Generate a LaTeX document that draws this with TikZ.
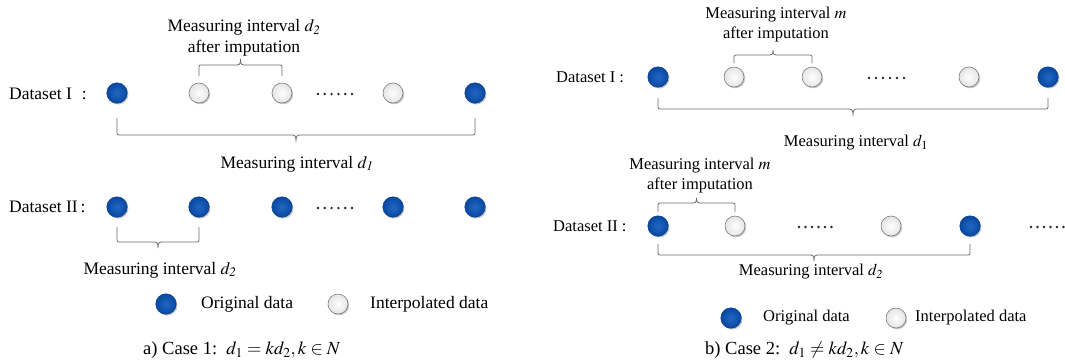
\documentclass[tikz,border=0pt]{standalone}
\usepackage{mathptmx}
\usepackage{fontspec}
\setmainfont{Liberation Serif}
\usetikzlibrary{shadows}
\definecolor{blueIn}{HTML}{2366C2}
\definecolor{blueOut}{HTML}{0748A0}
\definecolor{blueEdge}{HTML}{063E8C}
\definecolor{greyOut}{HTML}{E4E4E4}
\definecolor{greyEdge}{HTML}{7A7A7A}
\definecolor{braceCol}{HTML}{6A6A6A}
\tikzset{
  dshadow/.style={drop shadow={shadow xshift=1.2pt, shadow yshift=-1.3pt, fill=black, opacity=0.22}},
  orig/.style={circle, minimum size=20.5pt, inner sep=0pt, draw=blueEdge, line width=0.5pt,
    inner color=blueIn, outer color=blueOut, dshadow},
  interp/.style={circle, minimum size=20pt, inner sep=0pt, draw=greyEdge, line width=0.6pt,
    inner color=white, outer color=greyOut, dshadow},
  bracepath/.style={draw=braceCol, line width=0.8pt, line join=round},
  lefttext/.style={inner sep=0pt, font=\fontsize{17.5}{21}\selectfont},
  righttext/.style={inner sep=0pt, font=\fontsize{16.5}{20}\selectfont},
  captext/.style={inner sep=0pt, anchor=west, font=\fontsize{18.5}{22}\selectfont},
}
% x1, x2, y of ends, y of line, y of tip
\newcommand{\mybrace}[5]{%
  \pgfmathsetmacro\bxm{(#1+#2)/2}%
  \pgfmathsetmacro\bs{sign(#3-#4)}%
  \pgfmathsetmacro\byc{#4+4*\bs}%
  \draw[bracepath] (#1,#3) -- (#1,\byc) .. controls (#1,#4) .. ({#1+4},#4)
    -- ({\bxm-6},#4) .. controls ({\bxm-1},#4) and (\bxm,#4) .. (\bxm,#5)
    .. controls (\bxm,#4) and ({\bxm+1},#4) .. ({\bxm+6},#4)
    -- ({#2-4},#4) .. controls (#2,#4) .. (#2,\byc) -- (#2,#3);
}
% x start, spacing, y
\newcommand{\mydots}[3]{%
  \foreach \k in {0,...,5} \fill[black!85] ({#1+#2*\k},#3) circle (1.35);
}
\begin{document}
\begin{tikzpicture}[x=1pt,y=-1pt]
\useasboundingbox (0,0) rectangle (1065,360);

% ---------------- left panel ----------------
\node[lefttext, anchor=west] (lds1) at (9,94) {Dataset I\hspace{10pt}:};
\node[orig]   (la1) at (117,93) {};
\node[interp] (la2) at (199,93) {};
\node[interp] (la3) at (282,93) {};
\mydots{318}{6.8}{94}
\node[interp] (la5) at (393,93) {};
\node[orig]   (la6) at (475,93) {};

\node[lefttext, align=center] (ltop) at (244,38) {Measuring interval $d_{\mathit{2}}$\\after imputation};
\mybrace{199}{282}{76}{65}{59}
\mybrace{117}{475}{118}{135}{142}
\node[lefttext] (ld1) at (297,164) {Measuring interval $d_{\mathit{1}}$};

\node[lefttext, anchor=west] (lds2) at (9,207) {Dataset II\hspace{3pt}:};
\node[orig] (lb1) at (117,207) {};
\node[orig] (lb2) at (199,207) {};
\node[orig] (lb3) at (282,207) {};
\mydots{318}{6.8}{208}
\node[orig] (lb5) at (393,207) {};
\node[orig] (lb6) at (475,207) {};
\mybrace{117}{199}{227}{242}{248}
\node[lefttext] (ld2) at (160,270) {Measuring interval $d_{\mathit{2}}$};

\node[orig]   (lleg1) at (166,304) {};
\node[lefttext, anchor=west] (llegt1) at (201,304) {Original data};
\node[interp] (lleg2) at (338,304) {};
\node[lefttext, anchor=west] (llegt2) at (370,304) {Interpolated data};

\node[captext] (lcap) at (143,350) {a) Case 1:\enspace $d_1=kd_2, k\in N$};

% ---------------- right panel ----------------
\node[righttext, anchor=west] (rds1) at (556,77) {Dataset I :};
\node[orig]   (ra1) at (658,77) {};
\node[interp] (ra2) at (734,77) {};
\node[interp] (ra3) at (812,77) {};
\mydots{869}{7}{78}
\node[interp] (ra5) at (969,77) {};
\node[orig]   (ra6) at (1048,77) {};

\node[righttext, align=center] (rtop) at (776,25) {Measuring interval $m$\\after imputation};
\mybrace{734}{812}{63}{55}{50}
\mybrace{658}{1048}{98}{109}{116}
\node[righttext] (rd1) at (856,143) {Measuring interval $d_1$};

\node[righttext, align=center] (rtop2) at (700,176) {Measuring interval $m$\\after imputation};
\node[righttext, anchor=west] (rds2) at (553,226) {Dataset II :};
\node[orig]   (rb1) at (658,226) {};
\node[interp] (rb2) at (735,226) {};
\mydots{799}{6.5}{227}
\node[interp] (rb4) at (891,226) {};
\node[orig]   (rb5) at (970,226) {};
\mydots{1031}{6.5}{227}
\mybrace{658}{735}{212}{203}{198}
\mybrace{658}{970}{244}{255}{261}
\node[righttext] (rd2) at (811,272) {Measuring interval $d_{\mathit{2}}$};

\node[orig]   (rleg1) at (731,318) {};
\node[righttext, anchor=west] (rlegt1) at (763,318) {Original data};
\node[interp] (rleg2) at (896,318) {};
\node[righttext, anchor=west] (rlegt2) at (915,318) {Interpolated data};

\node[captext] (rcap) at (705,350) {b) Case 2:\enspace $d_1\neq kd_2, k\in N$};
\end{tikzpicture}
\end{document}
